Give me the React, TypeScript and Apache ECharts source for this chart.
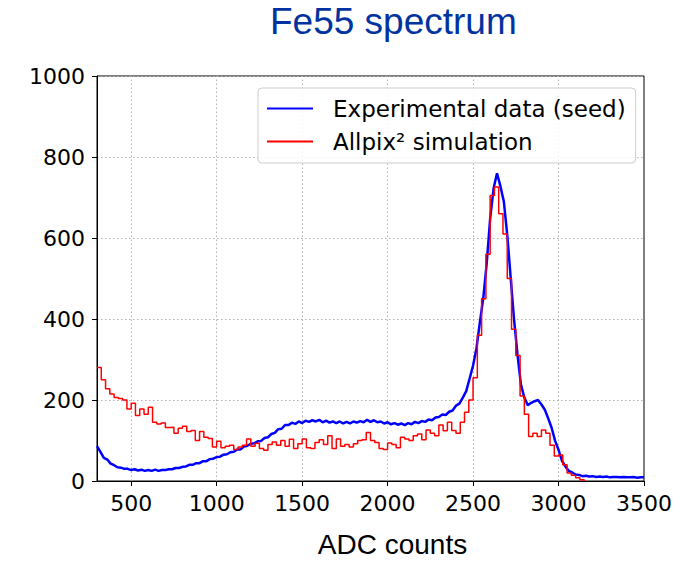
import React, { useEffect, useRef } from 'react';
import * as echarts from 'echarts';

const titleText = 'Fe55 spectrum';
const xAxisName = 'ADC counts';
const seriesNames = ['Experimental data (seed)', 'Allpix² simulation'];
const xTickValues = [500, 1000, 1500, 2000, 2500, 3000, 3500];
const xGridValues = [500, 1000, 1500, 2000, 2500, 3000];

// Experimental spectrum: one value per 20-ADC channel, starting at 300
const expStart = 300;
const expStep = 20;
const expCounts = [
  86, 72, 57, 53, 43, 39, 34, 33, 30, 30,
  27, 29, 26, 28, 25, 27, 25, 28, 25, 27,
  27, 29, 29, 32, 32, 35, 36, 40, 40, 44,
  44, 49, 49, 54, 55, 59, 60, 65, 66, 71,
  72, 78, 78, 85, 87, 92, 93, 98, 99, 106,
  108, 116, 119, 128, 129, 138, 138, 144, 141, 147,
  143, 149, 146, 150, 147, 151, 145, 149, 144, 147,
  143, 147, 142, 146, 142, 147, 144, 148, 145, 151,
  146, 150, 145, 147, 142, 145, 140, 143, 139, 142,
  138, 143, 140, 146, 143, 148, 146, 152, 150, 157,
  158, 164, 163, 171, 174, 186, 191, 206, 222, 253,
  285, 328, 392, 453, 538, 648, 722, 760, 728, 690,
  608, 502, 398, 312, 238, 206, 187, 193, 197, 200,
  189, 176, 154, 131, 99, 77, 50, 36, 25, 21,
  16, 15, 12, 13, 11, 12, 10, 11, 10, 11,
  9, 10, 10, 9, 10, 9, 9, 10, 8, 9,
  9,
];

// Simulation histogram: one value per 25-ADC bin, starting at 300
const simStart = 300;
const simStep = 25;
const simCounts = [
  280, 250, 228, 215, 206, 204, 200, 178, 192, 162,
  178, 165, 182, 145, 141, 143, 132, 133, 118, 130,
  135, 122, 125, 100, 122, 108, 105, 84, 98, 82,
  86, 88, 78, 84, 88, 104, 86, 93, 80, 76,
  90, 96, 88, 100, 86, 103, 80, 92, 104, 82,
  80, 95, 102, 90, 112, 80, 104, 86, 90, 84,
  92, 100, 102, 120, 100, 95, 80, 78, 94, 90,
  82, 108, 104, 100, 112, 116, 102, 126, 118, 112,
  138, 124, 145, 125, 118, 145, 170, 200, 255, 360,
  450, 560, 705, 726, 660, 610, 500, 375, 310, 210,
  165, 110, 118, 110, 126, 118, 88, 62, 64, 40,
  20, 14, 8, 3,
];

export default function App() {
  const ref = useRef<HTMLDivElement>(null);

  useEffect(() => {
    if (!ref.current) return;
    const chart = echarts.init(ref.current, undefined, { renderer: 'svg' });

    const expData = expCounts.map((v, i) => [expStart + i * expStep, v]);
    const simData = simCounts.map((v, i) => [simStart + i * simStep, v]);
    simData.push([simStart + simCounts.length * simStep, 0]);

    const gridLine = { color: '#b0b0b0', type: [1.5, 2.5], width: 1 };
    const plainNumber = (v: number) => String(v);

    chart.setOption({
      animation: false,
      backgroundColor: '#ffffff',
      title: {
        text: titleText,
        left: 270,
        top: 3,
        padding: 0,
        textStyle: {
          fontFamily: 'Liberation Sans',
          fontSize: 37,
          lineHeight: 37,
          fontWeight: 'normal',
          color: '#0033a0',
        },
      },
      legend: {
        orient: 'vertical',
        left: 258,
        top: 88,
        padding: [7, 10, 8, 9],
        itemGap: 6,
        itemWidth: 46,
        itemHeight: 2,
        icon: 'rect',
        backgroundColor: 'rgba(255,255,255,0.85)',
        borderColor: '#cccccc',
        borderWidth: 1,
        borderRadius: 4,
        textStyle: {
          fontFamily: 'DejaVu Sans',
          fontSize: 23,
          lineHeight: 27,
          color: '#000000',
          padding: [0, 0, 0, 15],
        },
        data: seriesNames,
      },
      grid: {
        left: 97,
        right: 41,
        top: 76,
        bottom: 76,
        show: true,
        borderColor: '#000000',
        borderWidth: 1,
        backgroundColor: 'transparent',
      },
      xAxis: {
        type: 'value',
        min: 300,
        max: 3500,
        name: xAxisName,
        nameLocation: 'middle',
        nameGap: 49,
        nameTextStyle: {
          fontFamily: 'Liberation Sans',
          fontSize: 28,
          color: '#000000',
          padding: [0, 0, 0, 44],
        },
        axisLine: { show: true, onZero: false, lineStyle: { color: '#000000', width: 1 } },
        axisTick: {
          show: true,
          inside: false,
          length: 5,
          customValues: xTickValues,
          lineStyle: { color: '#000000', width: 1 },
        },
        axisLabel: {
          customValues: xTickValues,
          formatter: plainNumber,
          margin: 11,
          fontFamily: 'DejaVu Sans',
          fontSize: 22,
          color: '#000000',
        },
        splitLine: { show: false },
      },
      yAxis: {
        type: 'value',
        min: 0,
        max: 1000,
        interval: 200,
        axisLine: { show: true, onZero: false, lineStyle: { color: '#000000', width: 1 } },
        axisTick: { show: true, inside: false, length: 5, lineStyle: { color: '#000000', width: 1 } },
        axisLabel: {
          formatter: plainNumber,
          margin: 12,
          fontFamily: 'DejaVu Sans',
          fontSize: 22,
          color: '#000000',
        },
        splitLine: { show: true, lineStyle: gridLine },
      },
      series: [
        {
          type: 'line',
          data: [],
          silent: true,
          z: 1,
          markLine: {
            silent: true,
            z: 1,
            symbol: ['none', 'none'],
            label: { show: false },
            lineStyle: gridLine,
            emphasis: { disabled: true },
            data: xGridValues.map((v) => ({ xAxis: v })),
          },
        },
        {
          name: seriesNames[0],
          type: 'line',
          data: expData,
          showSymbol: false,
          symbol: 'none',
          z: 3,
          lineStyle: { color: '#0000ff', width: 2.5 },
          itemStyle: { color: '#0000ff' },
        },
        {
          name: seriesNames[1],
          type: 'line',
          step: 'end',
          data: simData,
          showSymbol: false,
          symbol: 'none',
          z: 4,
          lineStyle: { color: '#ff0000', width: 1.5 },
          itemStyle: { color: '#ff0000' },
        },
      ],
    });

    return () => chart.dispose();
  }, []);

  return <div ref={ref} style={{ width: 685, height: 563, marginLeft: -8, marginTop: -8 }} />;
}
